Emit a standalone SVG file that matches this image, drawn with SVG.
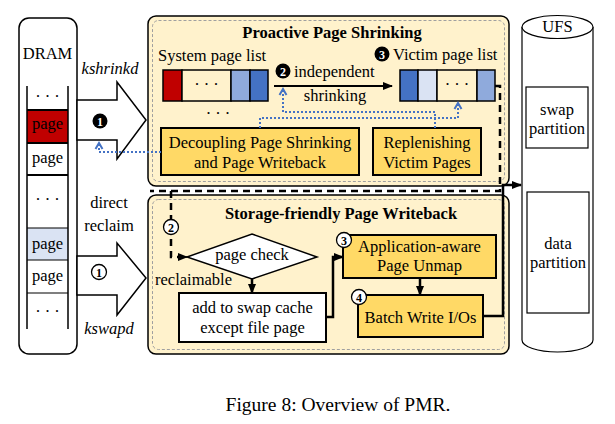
<svg xmlns="http://www.w3.org/2000/svg" width="615" height="424" viewBox="0 0 615 424">
<style>
text{font-family:"Liberation Serif","Times New Roman",serif;font-size:16.5px;fill:#000}
.c{text-anchor:middle}
.b{font-weight:bold}
.i{font-style:italic}
.panel{fill:#fff2cc;stroke:#000;stroke-width:1.5}
.inner{fill:none;stroke:#a0a0a0;stroke-width:1;stroke-dasharray:3 2}
.gold{fill:#ffd966;stroke:#000;stroke-width:2}
.wbox{fill:#fff;stroke:#000;stroke-width:2}
.cell{stroke:#000;stroke-width:1.5}
.blue{fill:none;stroke:#4472c4;stroke-width:2;stroke-dasharray:2 2}
.thick{fill:none;stroke:#000;stroke-width:2.5}
.dash{fill:none;stroke:#000;stroke-width:2.5;stroke-dasharray:7 5}
.num{font-size:12px;font-weight:bold;text-anchor:middle}
</style>
<defs>
<marker id="ah" markerUnits="userSpaceOnUse" markerWidth="10" markerHeight="10" viewBox="0 0 10 10" refX="9" refY="5" orient="auto">
<path d="M0,1 L10,5 L0,9 Z" fill="#000"/>
</marker>
<marker id="bh" markerUnits="userSpaceOnUse" markerWidth="10" markerHeight="10" viewBox="0 0 10 10" refX="8" refY="5" orient="auto">
<path d="M2,1.5 L8,5 L2,8.5" fill="none" stroke="#4472c4" stroke-width="2"/>
</marker>
</defs>

<g id="dram">
<rect x="19" y="18" width="58" height="336" rx="10" fill="#fff" stroke="#000" stroke-width="1.5"/>
<text class="c" x="47.5" y="59">DRAM</text>
<rect x="27" y="110" width="41" height="33" fill="#c00000"/>
<rect x="27" y="228" width="41" height="32" fill="#dae3f3"/>
<path d="M27,86 V329 M68,86 V329" stroke="#000" stroke-width="1.5" fill="none"/>
<path d="M27,110 H68 M27,143 H68 M27,175 H68" stroke="#000" stroke-width="2" fill="none"/>
<path d="M27,228 H68 M27,260 H68 M27,293 H68" stroke="#000" stroke-width="1.2" fill="none"/>
<text class="c" x="47.5" y="102">· · ·</text>
<text class="c" x="47.5" y="129">page</text>
<text class="c" x="47.5" y="163">page</text>
<text class="c" x="47.5" y="205">· · ·</text>
<text class="c" x="47.5" y="249">page</text>
<text class="c" x="47.5" y="281">page</text>
<text class="c" x="47.5" y="317">· · ·</text>
</g>

<g id="arrow-kshrinkd">
<polygon points="77,100 117,100 117,82 146,120 117,159 117,140 77,140" fill="#fff" stroke="#000" stroke-width="1.5"/>
<text class="c i" x="110" y="74">kshrinkd</text>
<circle cx="100" cy="121" r="7.5" fill="#000"/>
<text class="num" x="100" y="125.5" style="fill:#fff">1</text>
</g>

<g id="arrow-kswapd">
<polygon points="77,256 117,256 117,243 146,278 117,315 117,295 77,295" fill="#fff" stroke="#000" stroke-width="1.5"/>
<text class="c" x="109" y="208">direct</text>
<text class="c" x="109" y="231">reclaim</text>
<circle cx="99" cy="272" r="7.5" fill="#fff" stroke="#000" stroke-width="1.3"/>
<text class="num" x="99" y="276.5">1</text>
<text class="c i" x="109" y="334">kswapd</text>
</g>

<g id="proactive">
<rect class="panel" x="148" y="16" width="361" height="170" rx="8"/>
<rect class="inner" x="152.5" y="20.5" width="352" height="161" rx="6"/>
<text class="c b" x="332" y="38">Proactive Page Shrinking</text>
<text x="158" y="61">System page list</text>
<rect class="cell" x="163" y="70" width="19" height="31" fill="#c00000"/>
<rect class="cell" x="182" y="70" width="49" height="31" fill="#fff2cc"/>
<rect class="cell" x="231" y="70" width="19" height="31" fill="#8faadc"/>
<rect class="cell" x="250" y="70" width="18" height="31" fill="#4472c4"/>
<text class="c" x="206.5" y="90">· · ·</text>
<text class="c" x="218" y="119">· · ·</text>
<circle cx="283" cy="71" r="7.5" fill="#000"/>
<text class="num" x="283" y="75.5" style="fill:#fff">2</text>
<text x="294" y="77">independent</text>
<text class="c" x="335" y="101">shrinking</text>
<circle cx="382" cy="54" r="7.5" fill="#000"/>
<text class="num" x="382" y="58.5" style="fill:#fff">3</text>
<text x="393" y="60">Victim page list</text>
<rect class="cell" x="400" y="70" width="18" height="31" fill="#4472c4"/>
<rect class="cell" x="418" y="70" width="19" height="31" fill="#dae3f3"/>
<rect class="cell" x="437" y="70" width="40" height="31" fill="#fff2cc"/>
<rect class="cell" x="477" y="70" width="18" height="31" fill="#8faadc"/>
<text class="c" x="457" y="90">· · ·</text>
</g>

<g id="decoupling">
<rect class="gold" x="161" y="128" width="198" height="47"/>
<text class="c" x="260" y="148">Decoupling Page Shrinking</text>
<text class="c" x="260" y="168">and Page Writeback</text>
</g>

<g id="replenishing">
<rect class="gold" x="373" y="128" width="108" height="47"/>
<text class="c" x="427" y="148">Replenishing</text>
<text class="c" x="427" y="168">Victim Pages</text>
</g>

<g id="writeback">
<rect class="panel" x="148" y="195" width="361" height="159" rx="8"/>
<rect class="inner" x="152.5" y="199.5" width="352" height="150" rx="6"/>
<text class="c b" x="341" y="219">Storage-friendly Page Writeback</text>
</g>

<g id="page-check">
<polygon points="187,257 252,234 317,257 252,279" fill="#fff" stroke="#000" stroke-width="1.5"/>
<text class="c" x="252" y="260">page check</text>
<text x="155" y="285">reclaimable</text>
</g>

<g id="swap-cache">
<rect class="wbox" x="179" y="293" width="147" height="49"/>
<text class="c" x="252.5" y="313">add to swap cache</text>
<text class="c" x="252.5" y="333">except file page</text>
</g>

<g id="unmap">
<rect class="gold" x="343" y="235" width="153" height="43"/>
<text class="c" x="419.5" y="252">Application-aware</text>
<text class="c" x="419.5" y="271">Page Unmap</text>
<circle cx="344" cy="240" r="7.5" fill="#fff" stroke="#000" stroke-width="1.3"/>
<text class="num" x="344" y="244.5">3</text>
</g>

<g id="batch">
<rect class="gold" x="358" y="295" width="125" height="42"/>
<text class="c" x="420.5" y="323">Batch Write I/Os</text>
<circle cx="359" cy="297" r="7.5" fill="#fff" stroke="#000" stroke-width="1.3"/>
<text class="num" x="359" y="301.5">4</text>
</g>

<g id="ufs">
<path d="M522,27 V340 A35.5,12 0 0 0 593,340 V27" fill="#fff" stroke="#000" stroke-width="1.2"/>
<ellipse cx="557.5" cy="27" rx="35.5" ry="11.5" fill="#fff" stroke="#000" stroke-width="1.2"/>
<text class="c" x="557.5" y="32">UFS</text>
<rect x="526" y="87" width="62" height="61" fill="#fff" stroke="#000" stroke-width="1.2"/>
<text class="c" x="557" y="115">swap</text>
<text class="c" x="557" y="134">partition</text>
<rect x="527" y="192" width="62" height="121" fill="#fff" stroke="#000" stroke-width="1.2"/>
<text class="c" x="558" y="249">data</text>
<text class="c" x="558" y="268">partition</text>
</g>

<g id="connectors">
<path d="M274,86 H392" fill="none" stroke="#000" stroke-width="2" marker-end="url(#ah)"/>
<path class="blue" d="M435,128 V112 H283 V89" marker-end="url(#bh)"/>
<path class="blue" d="M260,128 V118 H458 V103" marker-end="url(#bh)"/>
<path class="blue" d="M161,152 H99 V143" marker-end="url(#bh)"/>
<path class="dash" d="M495,86 H500 V191 H150"/>
<path class="dash" d="M171,191 V257 H181"/>
<path d="M181,257 H187" fill="none" stroke="#000" stroke-width="1.5" marker-end="url(#ah)"/>
<circle cx="171" cy="227" r="7.5" fill="#fff" stroke="#000" stroke-width="1.3"/>
<text class="num" x="171" y="231.5">2</text>
<path class="thick" d="M252,279 V293" marker-end="url(#ah)"/>
<path class="thick" d="M326,317 H333 V257 H343" marker-end="url(#ah)"/>
<path class="thick" d="M420,278 V295" marker-end="url(#ah)"/>
<path class="thick" d="M483,316 H503 V185 H521" marker-end="url(#ah)"/>
</g>

<text class="c" x="338" y="411" style="font-size:19.5px">Figure 8: Overview of PMR.</text>
</svg>
